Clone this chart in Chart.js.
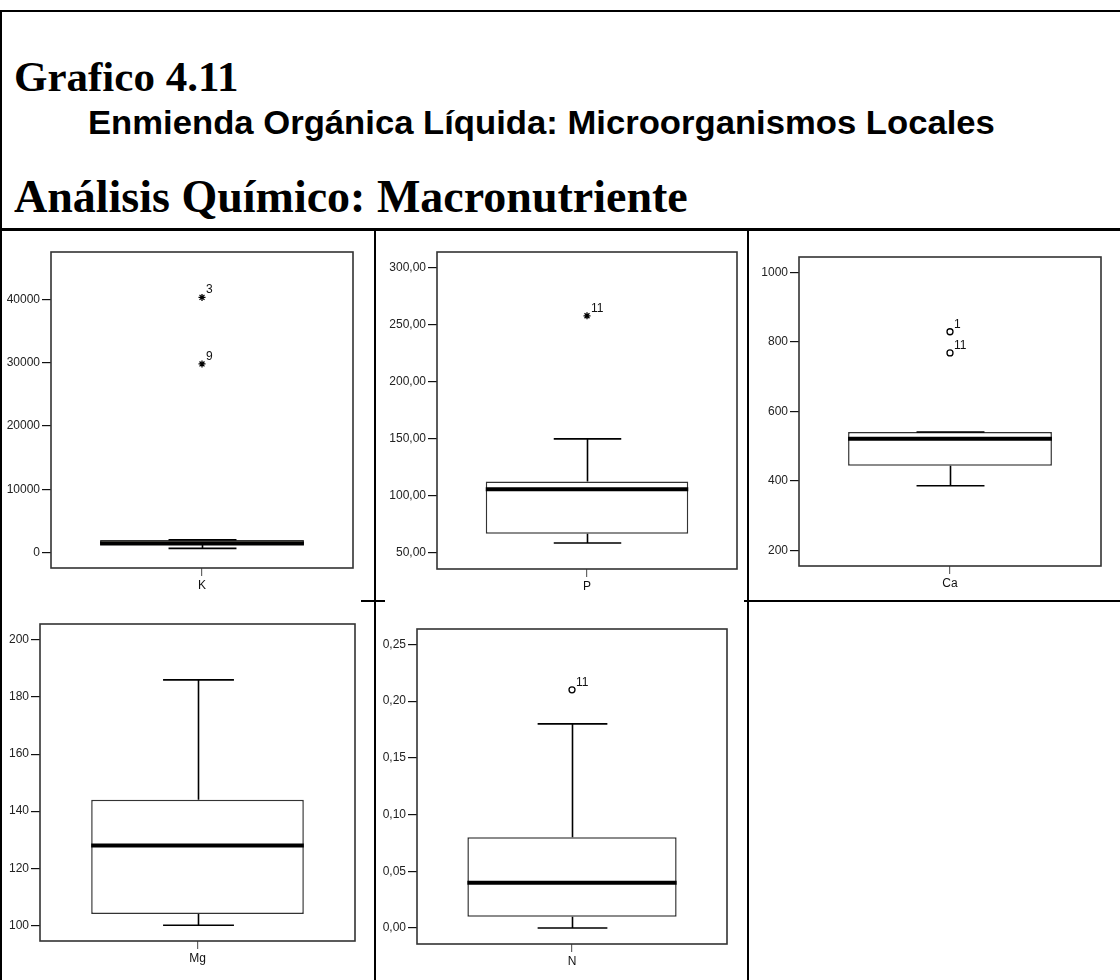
<!DOCTYPE html>
<html><head><meta charset="utf-8">
<script src="https://cdn.jsdelivr.net/npm/chart.js@4.4.0/dist/chart.umd.min.js"></script>
<style>
html,body{margin:0;padding:0;background:#fff}
body{width:1120px;height:980px;position:relative;overflow:hidden}
.ln{position:absolute;background:#000;z-index:5}
.t{position:absolute;white-space:nowrap;color:#000;line-height:1;margin:0}
canvas{position:absolute;z-index:2}
</style></head><body>

<div class="t" id="t1" style="left:14px;top:52px;font:bold 43px 'Liberation Serif',serif;">Grafico 4.11</div>
<div class="t" id="t2" style="left:88px;top:104px;font:bold 33px 'Liberation Sans',Arial,sans-serif;transform:scaleX(1.05);transform-origin:0 0;">Enmienda Orgánica Líquida: Microorganismos Locales</div>
<div class="t" id="t3" style="left:14px;top:170px;font:bold 46px 'Liberation Serif',serif;">Análisis Químico: Macronutriente</div>

<div class="ln" style="left:0;top:10px;width:1120px;height:2px"></div>
<div class="ln" style="left:0;top:10px;width:2px;height:970px"></div>
<div class="ln" style="left:0;top:228px;width:1120px;height:3px"></div>
<div class="ln" style="left:374px;top:229px;width:2px;height:751px"></div>
<div class="ln" style="left:747px;top:229px;width:2px;height:751px"></div>
<div class="ln" style="left:744px;top:600px;width:376px;height:2px"></div>
<div class="ln" style="left:361px;top:600px;width:24px;height:2px"></div>

<script>
// ---- data ----
const variables     = ['K', 'P', 'Ca', 'Mg', 'N'];
const lowerWhisker  = [700, 58.5, 386, 100, 0.00];
const quartile1     = [1250, 66.7, 443.7, 104, 0.01];
const medians       = [1450, 105.6, 521, 128, 0.04];
const quartile3     = [2000, 112.3, 540.4, 144, 0.08];
const upperWhisker  = [2050, 149.7, 540.4, 186, 0.18];

const outlierVar    = ['K', 'K', 'P', 'Ca', 'Ca', 'N'];
const outlierValue  = [40300, 29800, 257.6, 829, 768, 0.21];
const outlierCase   = ['3', '9', '11', '1', '11', '11'];
const outlierExtreme= [true, true, true, false, false, false];

const axisMin       = [-2400, 35.7, 155, 94.5, -0.0141];
const axisMax       = [47460, 313.5, 1044, 205.6, 0.2636];
const axisTicks     = [
  [0, 10000, 20000, 30000, 40000],
  [50, 100, 150, 200, 250, 300],
  [200, 400, 600, 800, 1000],
  [100, 120, 140, 160, 180, 200],
  [0, 0.05, 0.10, 0.15, 0.20, 0.25]
];
const tickDecimals  = [0, 2, 0, 0, 2];

// ---- layout / style ----
const plotRects = [ // left, top, right, bottom of plotting area
  [51, 252, 353, 568],
  [437, 252, 737, 569],
  [799, 257, 1101, 566],
  [40, 624, 355, 941],
  [417, 629, 727, 944]
];
const boxFill = ['#6b6650', '#ffffff', '#ffffff', '#ffffff', '#ffffff'];
const AXW = 50, TOPP = 20, RIGHTP = 20, AXH = 30;

const boxPlugin = {
  id: 'boxstats',
  afterDatasetsDraw(chart) {
    const i = chart.options.plugins.boxstats.index;
    const ctx = chart.ctx, y = chart.scales.y, a = chart.chartArea;
    const bar = chart.getDatasetMeta(0).data[0];
    const p = bar.getProps(['x', 'width'], true);
    const cx = Math.round(p.x) + 0.5, w = p.width;
    ctx.save();
    ctx.strokeStyle = '#000';
    ctx.lineWidth = 1.6;
    const yq3 = y.getPixelForValue(quartile3[i]), yuw = y.getPixelForValue(upperWhisker[i]);
    const yq1 = y.getPixelForValue(quartile1[i]), ylw = y.getPixelForValue(lowerWhisker[i]);
    ctx.beginPath();
    ctx.moveTo(cx, yq3); ctx.lineTo(cx, yuw);
    ctx.moveTo(cx - w / 6, yuw); ctx.lineTo(cx + w / 6, yuw);
    ctx.moveTo(cx, yq1); ctx.lineTo(cx, ylw);
    ctx.moveTo(cx - w / 6, ylw); ctx.lineTo(cx + w / 6, ylw);
    ctx.stroke();
    // median
    ctx.lineWidth = 4;
    const ym = y.getPixelForValue(medians[i]);
    ctx.beginPath();
    ctx.moveTo(p.x - w / 2, ym); ctx.lineTo(p.x + w / 2, ym);
    ctx.stroke();
    // frame
    ctx.strokeStyle = '#333';
    ctx.lineWidth = 1.6;
    ctx.strokeRect(a.left, a.top, a.right - a.left, a.bottom - a.top);
    // outlier labels
    ctx.fillStyle = '#111';
    ctx.font = '12px "Liberation Sans", Arial, sans-serif';
    ctx.textBaseline = 'alphabetic';
    const meta = chart.getDatasetMeta(1);
    const labels = chart.data.datasets[1].caseLabels;
    meta.data.forEach((pt, k) => {
      ctx.fillText(labels[k], pt.x + 4, pt.y - 4);
    });
    ctx.restore();
  }
};

function fmt(v, d) { return Number(v).toFixed(d).replace('.', ','); }

variables.forEach((name, i) => {
  const r = plotRects[i];
  const cv = document.createElement('canvas');
  const W = (r[2] - r[0]) + AXW + RIGHTP, H = (r[3] - r[1]) + TOPP + AXH;
  cv.width = W; cv.height = H;
  cv.style.left = (r[0] - AXW) + 'px';
  cv.style.top = (r[1] - TOPP) + 'px';
  cv.style.width = W + 'px'; cv.style.height = H + 'px';
  document.body.appendChild(cv);

  const pts = [], caseLabs = [], styles = [], fills = [], radii = [];
  outlierVar.forEach((v, k) => {
    if (v === name) {
      pts.push({ x: name, y: outlierValue[k] });
      caseLabs.push(outlierCase[k]);
      styles.push(outlierExtreme[k] ? 'star' : 'circle');
      fills.push(outlierExtreme[k] ? '#000' : '#fff');
      radii.push(outlierExtreme[k] ? 3.5 : 3);
    }
  });

  new Chart(cv, {
    type: 'bar',
    data: {
      labels: [name],
      datasets: [
        {
          type: 'bar',
          data: [[quartile1[i], quartile3[i]]],
          backgroundColor: boxFill[i],
          borderColor: '#333',
          borderWidth: 1.5,
          borderSkipped: false,
          barPercentage: 0.675,
          categoryPercentage: 1.0
        },
        {
          type: 'scatter',
          data: pts,
          caseLabels: caseLabs,
          pointStyle: styles,
          pointRadius: radii,
          pointBorderWidth: 1.3,
          pointBackgroundColor: fills,
          pointBorderColor: '#000'
        }
      ]
    },
    options: {
      responsive: false,
      animation: false,
      devicePixelRatio: 1,
      layout: { padding: { left: 0, top: TOPP, right: RIGHTP, bottom: 0 } },
      plugins: {
        legend: { display: false },
        tooltip: { enabled: false },
        title: { display: false },
        boxstats: { index: i }
      },
      scales: {
        x: {
          type: 'category',
          offset: true,
          afterFit(s) { s.height = AXH; },
          grid: { offset: false, drawOnChartArea: false, drawTicks: true, tickLength: 8, color: '#666', lineWidth: 1.2 },
          border: { display: false },
          ticks: { color: '#111', padding: 2, font: { family: 'Liberation Sans', size: 12 } }
        },
        y: {
          type: 'linear',
          min: axisMin[i],
          max: axisMax[i],
          afterBuildTicks(s) { s.ticks = axisTicks[i].map(v => ({ value: v })); },
          afterFit(s) { s.width = AXW; },
          grid: { drawOnChartArea: false, drawTicks: true, tickLength: 9, color: '#111', lineWidth: 1.2 },
          border: { display: false },
          ticks: {
            color: '#222', padding: 2,
            font: { family: 'Liberation Sans', size: 12 },
            callback: (v) => fmt(v, tickDecimals[i])
          }
        }
      }
    },
    plugins: [boxPlugin]
  });
});
</script>
</body></html>
